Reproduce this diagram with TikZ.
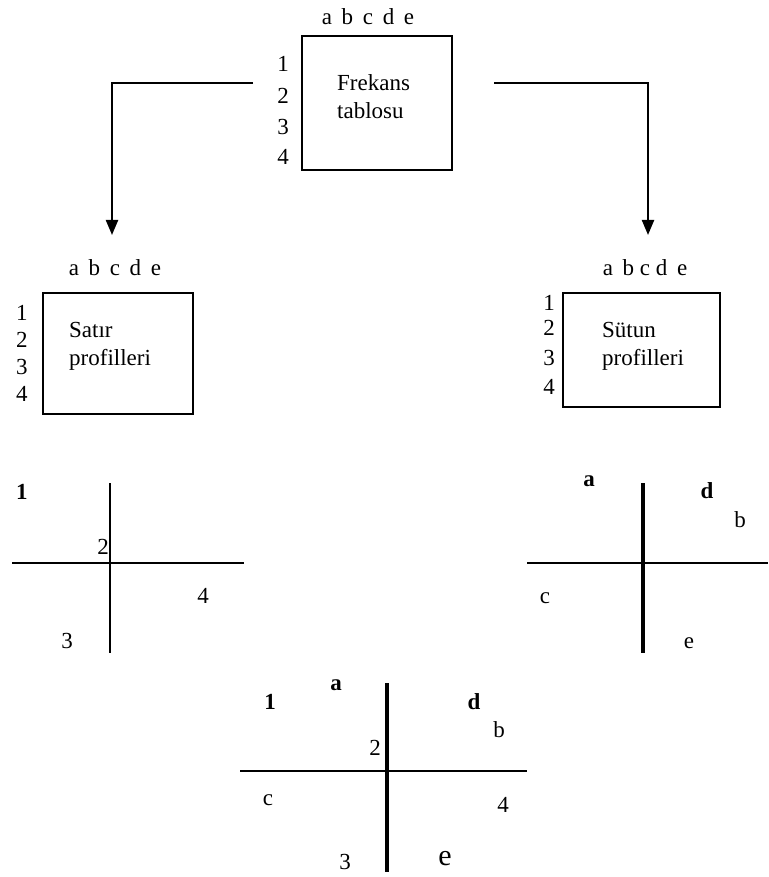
\documentclass[tikz,border=0pt]{standalone}
\usepackage{fontspec}
\setmainfont{Liberation Serif}
\usetikzlibrary{arrows.meta}
\begin{document}
\begin{tikzpicture}[x=1pt,y=-1pt,
  lbl/.style={inner sep=0pt,font=\fontsize{23}{28}\selectfont},
  blbl/.style={lbl,font=\fontsize{23}{28}\selectfont\bfseries},
  boxs/.style={draw,line width=1.6pt},
  axis/.style={line width=1.6pt},
  thickaxis/.style={line width=3.2pt},
  arr/.style={line width=2.2pt,-{Triangle[width=12pt,length=15pt]}}]
\useasboundingbox (0,0) rectangle (768,877);
% top box
\draw[boxs] (302,36) rectangle (452,170);
\node[lbl] (tcols) at (368,17) {a\hspace{0.42em}b\hspace{0.42em}c\hspace{0.42em}d\hspace{0.42em}e};
\node[lbl] (t1) at (283,64) {1};
\node[lbl] (t2) at (283,96) {2};
\node[lbl] (t3) at (283,127) {3};
\node[lbl] (t4) at (283,157) {4};
\node[lbl,align=left,anchor=west] (ttext) at (337,97) {Frekans\\tablosu};
% arrows
\coordinate (la) at (253,83);
\coordinate (lb) at (112,235);
\coordinate (ra) at (494,83);
\coordinate (rb) at (648,235);
\draw[arr] (la) -| (lb);
\draw[arr] (ra) -| (rb);
% left box
\draw[boxs] (43,293) rectangle (193,414);
\node[lbl] (lcols) at (115,268) {a\hspace{0.42em}b\hspace{0.42em}c\hspace{0.42em}d\hspace{0.42em}e};
\node[lbl] (l1) at (22,313) {1};
\node[lbl] (l2) at (22,340) {2};
\node[lbl] (l3) at (22,367) {3};
\node[lbl] (l4) at (22,394) {4};
\node[lbl,align=left,anchor=west] (ltext) at (69,346) {Sat\i r\\profilleri};
% right box
\draw[boxs] (563,293) rectangle (720,407);
\node[lbl] (rcols) at (645,268) {a\hspace{0.42em}b\hspace{0.25em}c\hspace{0.25em}d\hspace{0.42em}e};
\node[lbl] (r1) at (549,303) {1};
\node[lbl] (r2) at (549,328) {2};
\node[lbl] (r3) at (549,358) {3};
\node[lbl] (r4) at (549,387) {4};
\node[lbl,align=left,anchor=west] (rtext) at (602,346) {Sütun\\profilleri};
% left cross
\draw[axis] (110,483) -- (110,653);
\draw[axis] (12,563) -- (244,563);
\node[blbl] (c1) at (22,492) {1};
\node[lbl] (c2) at (103,547) {2};
\node[lbl] (c4) at (203,596) {4};
\node[lbl] (c3) at (67,641) {3};
% right cross
\draw[thickaxis] (643,483) -- (643,653);
\draw[axis] (527,563) -- (768,563);
\node[blbl] (ca) at (589,481) {a};
\node[blbl] (cd) at (707,491) {d};
\node[lbl] (cb) at (740,520) {b};
\node[lbl] (cc) at (545,598) {c};
\node[lbl] (ce) at (689,643) {e};
% bottom cross
\draw[thickaxis] (387,683) -- (387,872);
\draw[axis] (240,771) -- (527,771);
\node[blbl] (b1) at (270,702) {1};
\node[blbl] (ba) at (336,685) {a};
\node[blbl] (bd) at (474,702) {d};
\node[lbl] (bb) at (499,730) {b};
\node[lbl] (b2) at (375,748) {2};
\node[lbl] (bc) at (268,800) {c};
\node[lbl] (b4) at (503,805) {4};
\node[lbl] (b3) at (345,862) {3};
\node[lbl,font=\fontsize{30}{32}\selectfont] (be) at (445,859) {e};
\end{tikzpicture}
\end{document}
